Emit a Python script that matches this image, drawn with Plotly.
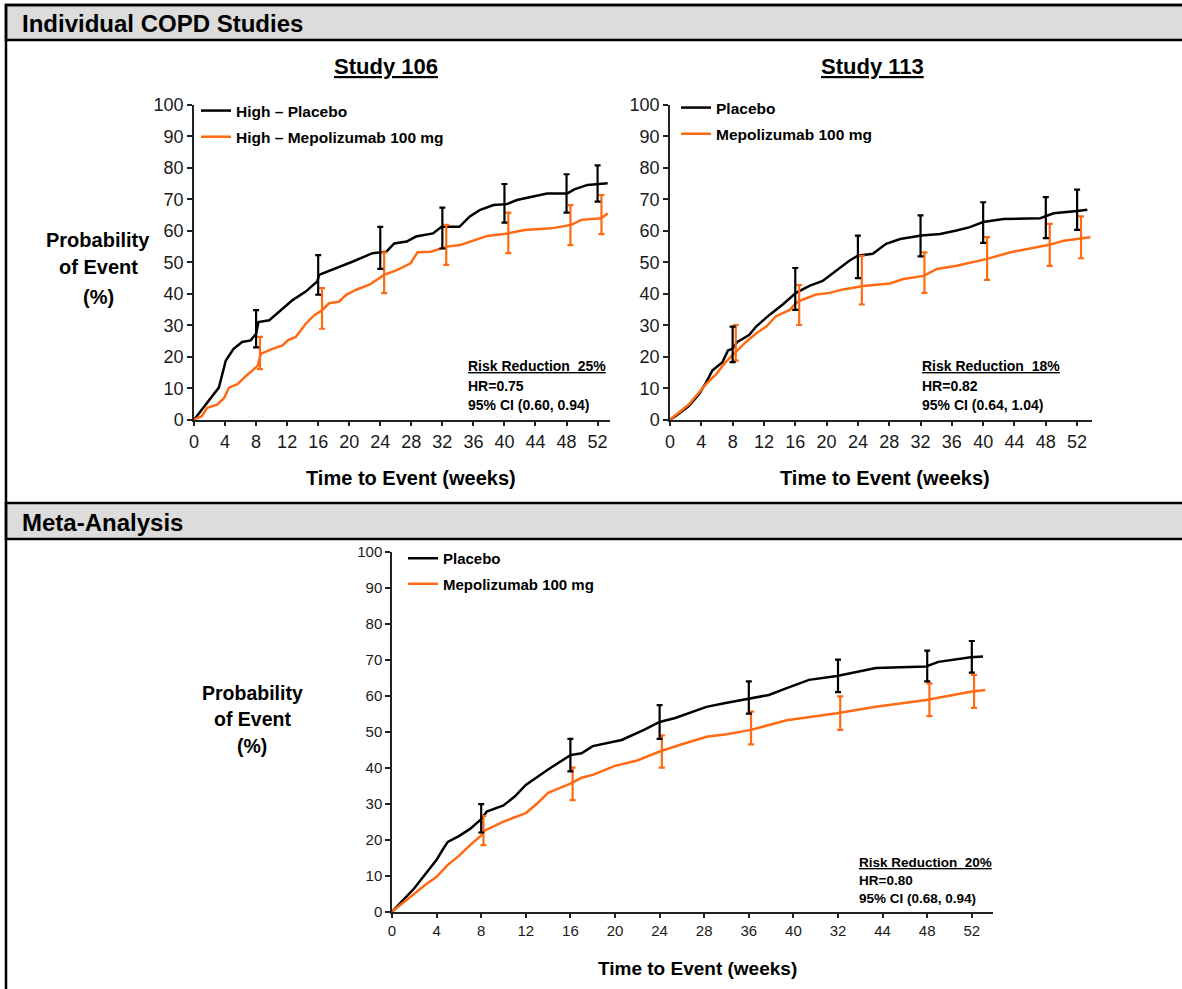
import plotly.graph_objects as go

W, H = 1182, 989
FONT = "Liberation Sans, Arial, sans-serif"
BLACK = "#000000"
ORANGE = "#FF6A13"

def px(x):
    return x / W

def py(y):
    return 1 - y / H

# ---------------- data ----------------
weeks_ticks = [0, 4, 8, 12, 16, 20, 24, 28, 32, 36, 40, 44, 48, 52]
tick_labels_top = [str(v) for v in weeks_ticks]
tick_labels_meta = ["0", "4", "8", "12", "16", "20", "24", "28", "36", "40", "32", "44", "48", "52"]
y_ticks = [0, 10, 20, 30, 40, 50, 60, 70, 80, 90, 100]

# Study 106
s106_pbo_w = [0, 1.5, 3.2, 4.1, 5.1, 6.2, 7.3, 8.0, 8.3, 9.7, 11.0, 12.7, 14.4, 15.9, 16.1, 18.3, 20.4, 23.0,
              24.8, 25.8, 27.4, 28.6, 30.8, 31.9, 34.2, 35.5, 36.8, 38.6, 40.3, 41.6, 43.8, 45.5, 48.1, 49.0,
              50.7, 53.3]
s106_pbo_v = [0, 4.8, 10.2, 18.8, 22.5, 24.7, 25.2, 27.3, 31.0, 31.6, 34.3, 38.0, 40.7, 44.0, 46.0, 48.1, 50.2,
              52.9, 53.4, 56.0, 56.6, 58.2, 59.2, 61.3, 61.3, 64.5, 66.6, 68.2, 68.5, 69.8, 70.9, 71.9, 71.9,
              73.2, 74.6, 75.1]
s106_mep_w = [0, 1.0, 1.7, 3.0, 3.9, 4.5, 5.6, 6.7, 8.2, 8.6, 10.1, 11.4, 12.1, 13.1, 14.4, 15.5, 16.5, 17.4,
              18.7, 19.6, 20.9, 22.6, 24.5, 26.2, 27.9, 28.8, 30.5, 32.6, 34.3, 36.1, 37.8, 40.4, 42.6, 46.0,
              48.6, 49.9, 52.5, 53.3]
s106_mep_v = [0, 1.1, 3.8, 4.8, 7.0, 10.2, 11.3, 13.9, 17.1, 20.9, 22.5, 23.6, 25.2, 26.3, 30.5, 33.2, 34.8,
              37.0, 37.5, 39.7, 41.3, 42.9, 46.0, 47.6, 49.7, 53.2, 53.4, 55.0, 55.5, 57.1, 58.4, 59.2, 60.3,
              60.8, 61.9, 63.5, 64.0, 65.6]
s106_pbo_ci_w = [8, 16, 24, 32, 40, 48, 52]
s106_pbo_ci_c = [27.5, 46.0, 53.0, 61.0, 68.7, 72.0, 75.0]
s106_pbo_ci_lo = [23.0, 39.7, 47.9, 54.4, 62.6, 65.8, 69.3]
s106_pbo_ci_hi = [34.8, 52.3, 61.3, 67.4, 74.9, 78.0, 80.8]
s106_mep_ci_w = [8.5, 16.5, 24.5, 32.5, 40.5, 48.5, 52.5]
s106_mep_ci_c = [20.0, 35.0, 46.0, 55.0, 59.2, 62.0, 64.5]
s106_mep_ci_lo = [16.1, 28.9, 40.2, 49.2, 52.9, 55.5, 59.0]
s106_mep_ci_hi = [26.3, 41.8, 53.2, 61.9, 65.8, 68.2, 71.4]

# Study 113
s113_pbo_w = [0, 0.7, 2.4, 3.7, 4.6, 5.4, 6.7, 7.4, 8.0, 8.6, 10.1, 11.0, 12.7, 14.4, 16.1, 17.8, 19.5, 21.2,
              22.9, 24.0, 25.9, 27.6, 29.4, 32.1, 34.5, 36.6, 38.3, 40.0, 42.6, 47.3, 49.0, 52.0, 53.3]
s113_pbo_v = [0, 1.1, 4.3, 8.1, 11.8, 15.6, 18.3, 22.0, 22.6, 24.7, 26.9, 29.6, 33.3, 36.6, 40.3, 42.5, 44.1,
              47.3, 50.5, 52.1, 52.7, 55.9, 57.4, 58.5, 59.0, 60.1, 61.2, 62.8, 63.8, 64.0, 65.6, 66.3, 66.7]
s113_mep_w = [0, 2.4, 4.6, 5.9, 7.1, 8.4, 9.7, 11.0, 12.3, 13.5, 15.3, 16.1, 17.0, 18.7, 20.4, 22.1, 24.7,
              28.1, 29.8, 32.4, 34.1, 36.6, 40.5, 43.5, 45.6, 48.6, 50.3, 53.7]
s113_mep_v = [0, 4.8, 11.3, 14.5, 18.3, 21.5, 24.7, 27.4, 29.6, 32.8, 34.9, 37.1, 38.2, 39.8, 40.3, 41.4, 42.5,
              43.3, 44.7, 45.7, 47.9, 48.9, 51.1, 53.2, 54.3, 55.7, 56.9, 58.0]
s113_pbo_ci_w = [8, 16, 24, 32, 40, 48, 52]
s113_pbo_ci_c = [22.6, 40.3, 52.1, 58.5, 62.8, 64.2, 66.3]
s113_pbo_ci_lo = [18.3, 34.9, 45.0, 51.9, 56.2, 57.7, 60.3]
s113_pbo_ci_hi = [29.6, 48.2, 58.5, 64.9, 69.1, 70.7, 73.1]
s113_mep_ci_w = [8.4, 16.5, 24.5, 32.5, 40.5, 48.5, 52.5]
s113_mep_ci_c = [21.5, 37.1, 42.5, 45.7, 51.1, 55.7, 57.5]
s113_mep_ci_lo = [18.8, 30.1, 36.6, 40.3, 44.4, 48.9, 51.3]
s113_mep_ci_hi = [30.1, 42.8, 52.1, 53.2, 58.0, 62.2, 64.6]

# Meta-analysis
meta_pbo_w = [0, 2, 3, 4, 4.5, 5, 6, 7, 8, 8.5, 10, 11, 12, 14, 16, 17, 18, 20.6, 22.6, 24, 25.4, 26.6, 28.2,
              29.8, 31.4, 33.8, 35.4, 37.4, 39.9, 43.4, 47.9, 49, 51.9, 53]
meta_pbo_v = [0, 6.5, 10.5, 14.4, 17, 19.4, 21, 23, 25.7, 27.8, 29.5, 32, 35.2, 39.5, 43.5, 44, 46, 47.7, 50.5,
              52.7, 53.8, 55.2, 56.9, 57.9, 58.8, 60.2, 62.1, 64.4, 65.5, 67.7, 68.1, 69.4, 70.7, 70.9]
meta_mep_w = [0, 1, 2, 3, 4, 5, 6, 7, 8, 8.3, 10, 12, 13, 14, 16, 17, 18, 20, 22, 24, 26, 28.2, 30, 32.2, 35.4,
              39.9, 43.4, 47.9, 51.9, 53.2]
meta_mep_v = [0, 2.5, 5, 7.5, 9.7, 13, 15.5, 18.5, 21.2, 22.5, 25, 27.4, 30, 33, 35.6, 37.2, 38, 40.5, 42, 44.5,
              46.5, 48.6, 49.3, 50.5, 53.2, 55.1, 56.9, 58.8, 61.1, 61.6]
meta_pbo_ci_w = [8, 16, 24, 32, 40, 48, 52]
meta_pbo_ci_c = [25.7, 43.5, 52.7, 59.7, 65.5, 68.1, 70.7]
meta_pbo_ci_lo = [22.0, 39.0, 48.0, 55.0, 61.0, 64.0, 66.4]
meta_pbo_ci_hi = [29.9, 48.0, 57.4, 64.0, 70.0, 72.5, 75.2]
meta_mep_ci_w = [8.2, 16.2, 24.2, 32.2, 40.2, 48.2, 52.2]
meta_mep_ci_c = [22.0, 35.6, 44.5, 50.5, 55.1, 58.8, 61.1]
meta_mep_ci_lo = [18.5, 31.0, 40.0, 46.5, 50.5, 54.3, 56.6]
meta_mep_ci_hi = [26.6, 40.0, 49.0, 55.6, 59.8, 63.4, 65.8]

# ---------------- figure ----------------
fig = go.Figure()

def add_curve(w, v, color, name, xa, ya, legend, group):
    fig.add_trace(go.Scatter(x=w, y=v, mode="lines", name=name, line=dict(color=color, width=2.5),
                             xaxis=xa, yaxis=ya, legend=legend, legendgroup=group, hoverinfo="skip"))

def add_ci(w, c, lo, hi, color, xa, ya):
    fig.add_trace(go.Scatter(x=w, y=c, mode="markers", marker=dict(size=1, color="rgba(0,0,0,0)"),
                             error_y=dict(type="data", symmetric=False,
                                          array=[h - m for h, m in zip(hi, c)],
                                          arrayminus=[m - l for m, l in zip(c, lo)],
                                          color=color, thickness=2.2, width=3),
                             xaxis=xa, yaxis=ya, showlegend=False, hoverinfo="skip"))

add_curve(s106_pbo_w, s106_pbo_v, BLACK, "<b>High – Placebo</b>", "x", "y", "legend", "a1")
add_curve(s106_mep_w, s106_mep_v, ORANGE, "<b>High – Mepolizumab 100 mg</b>", "x", "y", "legend", "a2")
add_ci(s106_mep_ci_w, s106_mep_ci_c, s106_mep_ci_lo, s106_mep_ci_hi, ORANGE, "x", "y")
add_ci(s106_pbo_ci_w, s106_pbo_ci_c, s106_pbo_ci_lo, s106_pbo_ci_hi, BLACK, "x", "y")

add_curve(s113_pbo_w, s113_pbo_v, BLACK, "<b>Placebo</b>", "x2", "y2", "legend2", "b1")
add_curve(s113_mep_w, s113_mep_v, ORANGE, "<b>Mepolizumab 100 mg</b>", "x2", "y2", "legend2", "b2")
add_ci(s113_mep_ci_w, s113_mep_ci_c, s113_mep_ci_lo, s113_mep_ci_hi, ORANGE, "x2", "y2")
add_ci(s113_pbo_ci_w, s113_pbo_ci_c, s113_pbo_ci_lo, s113_pbo_ci_hi, BLACK, "x2", "y2")

add_curve(meta_pbo_w, meta_pbo_v, BLACK, "<b>Placebo</b>", "x3", "y3", "legend3", "c1")
add_curve(meta_mep_w, meta_mep_v, ORANGE, "<b>Mepolizumab 100 mg</b>", "x3", "y3", "legend3", "c2")
add_ci(meta_mep_ci_w, meta_mep_ci_c, meta_mep_ci_lo, meta_mep_ci_hi, ORANGE, "x3", "y3")
add_ci(meta_pbo_ci_w, meta_pbo_ci_c, meta_pbo_ci_lo, meta_pbo_ci_hi, BLACK, "x3", "y3")

def xaxis(domain, rng, ticktext, anchor, size):
    return dict(domain=domain, range=rng, tickvals=weeks_ticks, ticktext=ticktext, anchor=anchor,
                showline=True, linecolor="#222", linewidth=1.5, ticks="outside", ticklen=5,
                tickcolor="#222", tickwidth=1.5, showgrid=False, zeroline=False, automargin=False,
                tickfont=dict(size=size, color="#1a1a1a", family=FONT), fixedrange=True)

def yaxis(domain, anchor, size):
    return dict(domain=domain, range=[0, 100], tickvals=y_ticks, anchor=anchor,
                showline=True, linecolor="#222", linewidth=1.5, ticks="outside", ticklen=5,
                tickcolor="#222", tickwidth=1.5, showgrid=False, zeroline=False, automargin=False,
                tickfont=dict(size=size, color="#1a1a1a", family=FONT), fixedrange=True)

top_y = [py(419.7), py(105)]
meta_y = [py(911.7), py(551.7)]

legend_common = dict(xanchor="left", yanchor="top", bgcolor="rgba(0,0,0,0)", itemwidth=30,
                     tracegroupgap=3, itemclick=False, itemdoubleclick=False)

fig.update_layout(
    width=W, height=H, margin=dict(l=0, r=0, t=0, b=0, pad=0),
    paper_bgcolor="white", plot_bgcolor="white",
    font=dict(family=FONT, color="black"),
    xaxis=xaxis([px(194), px(610)], [0, 53.6], tick_labels_top, "y", 18),
    yaxis=yaxis(top_y, "x", 18),
    xaxis2=xaxis([px(670), px(1092)], [0, 53.9], tick_labels_top, "y2", 18),
    yaxis2=yaxis(top_y, "x2", 18),
    xaxis3=xaxis([px(392), px(993)], [0, 53.9], tick_labels_meta, "y3", 15),
    yaxis3=yaxis(meta_y, "x3", 15),
    legend=dict(x=px(196), y=py(94), font=dict(size=15.5, family=FONT, color="black"), **legend_common),
    legend2=dict(x=px(676), y=py(91), font=dict(size=15.5, family=FONT, color="black"), **legend_common),
    legend3=dict(x=px(403), y=py(542), font=dict(size=15, family=FONT, color="black"), **legend_common),
    showlegend=True,
)

# ---------------- frame and section headers ----------------
shapes = [
    dict(type="rect", xref="paper", yref="paper", x0=px(6), x1=px(1200), y0=py(5), y1=py(1010),
         line=dict(color="black", width=2.5), fillcolor="rgba(0,0,0,0)", layer="above"),
    dict(type="rect", xref="paper", yref="paper", x0=px(6), x1=px(1200), y0=py(5), y1=py(40),
         line=dict(color="black", width=2.5), fillcolor="#DCDCDC", layer="below"),
    dict(type="rect", xref="paper", yref="paper", x0=px(6), x1=px(1200), y0=py(503), y1=py(539),
         line=dict(color="black", width=2.5), fillcolor="#DCDCDC", layer="below"),
]
fig.update_layout(shapes=shapes)

ann = []

def text(x, y, s, size, xanchor="center", bold=True):
    ann.append(dict(x=px(x), y=py(y), xref="paper", yref="paper", text=("<b>%s</b>" % s) if bold else s,
                    showarrow=False, xanchor=xanchor, yanchor="middle",
                    font=dict(size=size, family=FONT, color="black")))

text(20, 23, "Individual COPD Studies", 24, "left")
text(20, 522, "Meta-Analysis", 24, "left")
text(386, 67, "<u>Study 106</u>", 22)
text(872, 67, "<u>Study 113</u>", 22)

for yy, s in zip([240, 267, 297], ["Probability", "of Event", "(%)"]):
    text(98, yy, s, 20)
for yy, s in zip([693, 719, 746], ["Probability", "of Event", "(%)"]):
    text(252, yy, s, 19.5)

text(411, 478, "Time to Event (weeks)", 20)
text(885, 478, "Time to Event (weeks)", 20)
text(697, 968, "Time to Event (weeks)", 19)

def stats(x, ys, rr, hr, ci, size):
    text(x, ys[0], "<u>Risk Reduction&nbsp; %s</u>" % rr, size, "left")
    text(x, ys[1], "HR=%s" % hr, size, "left")
    text(x, ys[2], "95%% CI (%s)" % ci, size, "left")

stats(466, [366, 386, 405], "25%", "0.75", "0.60, 0.94", 14)
stats(920, [366, 386, 405], "18%", "0.82", "0.64, 1.04", 14)
stats(857, [862, 880, 898], "20%", "0.80", "0.68, 0.94", 13.5)

fig.update_layout(annotations=ann)

fig.write_html(
    "out.html",
    post_script="document.body.style.margin='0';document.body.style.padding='0';"
                "document.documentElement.style.overflow='hidden';",
)
